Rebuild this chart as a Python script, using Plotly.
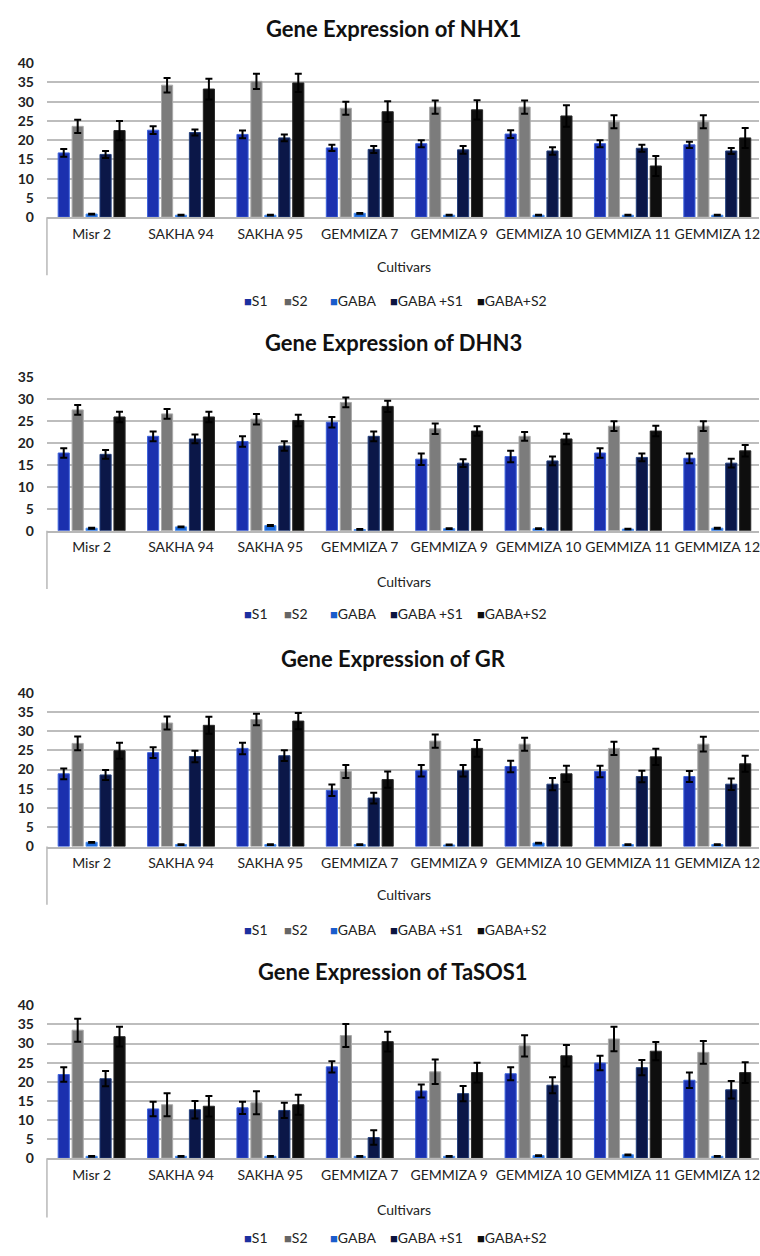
import plotly.graph_objects as go

CULTIVARS = ["Misr 2", "SAKHA 94", "SAKHA 95", "GEMMIZA 7", "GEMMIZA 9",
             "GEMMIZA 10", "GEMMIZA 11", "GEMMIZA 12"]
SERIES = ["S1", "S2", "GABA", "GABA +S1", "GABA+S2"]
GENES = ["NHX1", "DHN3", "GR", "TaSOS1"]

# NHX1
NHX1_S1 = [16.7, 22.6, 21.5, 18.0, 19.1, 21.6, 19.1, 18.8]
NHX1_S2 = [23.6, 34.3, 35.3, 28.3, 28.6, 28.6, 24.8, 24.8]
NHX1_GABA = [0.8, 0.5, 0.5, 1.0, 0.5, 0.5, 0.5, 0.5]
NHX1_GS1 = [16.3, 22.0, 20.6, 17.6, 17.5, 17.2, 17.9, 17.2]
NHX1_GS2 = [22.5, 33.3, 34.9, 27.4, 27.9, 26.3, 13.3, 20.6]
NHX1_S1_ERR = [1.0, 1.0, 1.0, 0.8, 0.9, 1.0, 0.9, 0.8]
NHX1_S2_ERR = [1.7, 1.9, 2.0, 1.7, 1.7, 1.7, 1.7, 1.7]
NHX1_GABA_ERR = [0.1, 0.1, 0.1, 0.1, 0.1, 0.1, 0.1, 0.1]
NHX1_GS1_ERR = [0.9, 0.8, 0.9, 0.9, 1.0, 1.0, 0.9, 0.8]
NHX1_GS2_ERR = [2.5, 2.7, 2.4, 2.7, 2.5, 2.8, 2.6, 2.6]

# DHN3
DHN3_S1 = [17.7, 21.5, 20.3, 24.7, 16.3, 16.9, 17.7, 16.5]
DHN3_S2 = [27.5, 26.6, 25.4, 29.2, 23.2, 21.5, 23.8, 23.8]
DHN3_GABA = [0.6, 0.9, 1.2, 0.3, 0.5, 0.5, 0.4, 0.6]
DHN3_GS1 = [17.4, 20.9, 19.3, 21.5, 15.4, 15.9, 16.7, 15.4]
DHN3_GS2 = [25.9, 25.9, 25.1, 28.3, 22.7, 20.9, 22.7, 18.2]
DHN3_S1_ERR = [1.1, 1.1, 1.2, 1.2, 1.3, 1.3, 1.1, 1.1]
DHN3_S2_ERR = [1.1, 1.1, 1.2, 1.1, 1.2, 1.0, 1.1, 1.1]
DHN3_GABA_ERR = [0.1, 0.1, 0.1, 0.1, 0.1, 0.1, 0.1, 0.1]
DHN3_GS1_ERR = [1.0, 1.0, 1.1, 1.1, 0.9, 1.0, 0.9, 1.0]
DHN3_GS2_ERR = [1.2, 1.2, 1.3, 1.3, 1.1, 1.2, 1.2, 1.3]

# GR
GR_S1 = [18.9, 24.4, 25.5, 14.6, 19.7, 20.8, 19.5, 18.2]
GR_S2 = [26.8, 32.1, 33.0, 19.5, 27.4, 26.6, 25.5, 26.6]
GR_GABA = [1.1, 0.5, 0.5, 0.5, 0.4, 0.9, 0.5, 0.5]
GR_GS1 = [18.6, 23.4, 23.6, 12.6, 19.7, 16.2, 18.2, 16.2]
GR_GS2 = [24.9, 31.5, 32.6, 17.4, 25.5, 18.9, 23.3, 21.5]
GR_S1_ERR = [1.4, 1.4, 1.5, 1.5, 1.5, 1.5, 1.5, 1.4]
GR_S2_ERR = [1.8, 1.7, 1.5, 1.7, 1.7, 1.7, 1.7, 1.9]
GR_GABA_ERR = [0.1, 0.1, 0.1, 0.1, 0.1, 0.1, 0.1, 0.1]
GR_GS1_ERR = [1.3, 1.5, 1.4, 1.4, 1.5, 1.6, 1.5, 1.5]
GR_GS2_ERR = [2.1, 2.2, 2.1, 2.1, 2.2, 2.1, 2.1, 2.1]

# TaSOS1
SOS1_S1 = [21.9, 12.9, 13.2, 23.9, 17.6, 22.1, 24.9, 20.4]
SOS1_S2 = [33.5, 14.0, 14.5, 32.1, 22.6, 29.4, 31.2, 27.7]
SOS1_GABA = [0.5, 0.5, 0.5, 0.5, 0.5, 0.7, 0.9, 0.5]
SOS1_GS1 = [20.8, 12.7, 12.5, 5.4, 16.9, 19.1, 23.7, 17.9]
SOS1_GS2 = [31.8, 13.6, 14.0, 30.5, 22.4, 26.8, 28.0, 22.4]
SOS1_S1_ERR = [1.9, 1.9, 1.6, 1.5, 1.7, 1.7, 1.9, 2.0]
SOS1_S2_ERR = [3.0, 3.0, 3.0, 3.0, 3.2, 2.8, 3.2, 3.0]
SOS1_GABA_ERR = [0.1, 0.1, 0.1, 0.1, 0.1, 0.1, 0.1, 0.1]
SOS1_GS1_ERR = [2.0, 2.3, 2.0, 1.9, 2.0, 2.1, 2.0, 2.3]
SOS1_GS2_ERR = [2.6, 2.7, 2.6, 2.6, 2.6, 2.8, 2.4, 2.7]

Y_MAX = [40, 35, 40, 40]

DATA = [
    [NHX1_S1, NHX1_S2, NHX1_GABA, NHX1_GS1, NHX1_GS2],
    [DHN3_S1, DHN3_S2, DHN3_GABA, DHN3_GS1, DHN3_GS2],
    [GR_S1, GR_S2, GR_GABA, GR_GS1, GR_GS2],
    [SOS1_S1, SOS1_S2, SOS1_GABA, SOS1_GS1, SOS1_GS2],
]
ERRS = [
    [NHX1_S1_ERR, NHX1_S2_ERR, NHX1_GABA_ERR, NHX1_GS1_ERR, NHX1_GS2_ERR],
    [DHN3_S1_ERR, DHN3_S2_ERR, DHN3_GABA_ERR, DHN3_GS1_ERR, DHN3_GS2_ERR],
    [GR_S1_ERR, GR_S2_ERR, GR_GABA_ERR, GR_GS1_ERR, GR_GS2_ERR],
    [SOS1_S1_ERR, SOS1_S2_ERR, SOS1_GABA_ERR, SOS1_GS1_ERR, SOS1_GS2_ERR],
]

FILL = ["#1b30ae", "#7c7c7c", "#1a66d6", "#0b1748", "#0e0e0e"]
EDGE = ["#3d63dc", "#a9a9a9", "#4a8ef0", "#24407e", "#2a2a2a"]
LEGEND_SWATCH = ["#1c2fa0", "#666666", "#1a5ccc", "#0b1440", "#0e0e0e"]

W, H = 760, 1256
FONT = "Lato, 'Open Sans', sans-serif"

# pixel layout of each panel
PLOT_TOP = [55, 373, 693, 1010]
PLOT_BOT = [211, 529, 849, 1165]
TITLE_Y = [20, 338, 658, 976]
AXT_Y = [261, 580, 898, 1217]
LEG_Y = [296, 613, 933, 1245]
RULE_BOT = [270, 588, 908, 1225]
LEG_X = [242, 282, 328, 389, 476]
X_LEFT = 47
X_RIGHT_FULL = 763

fig = go.Figure()
annotations = []
shapes = []


def py(p):
    return 1 - p / H


x_dom = [X_LEFT / W, 1.0]
x_hi = -0.5 + len(CULTIVARS) * (W - X_LEFT) / (X_RIGHT_FULL - X_LEFT)

for g, gene in enumerate(GENES):
    n = "" if g == 0 else str(g + 1)
    for s, name in enumerate(SERIES):
        fig.add_trace(go.Bar(
            x=CULTIVARS, y=DATA[g][s], name=name, showlegend=False,
            xaxis="x" + n, yaxis="y" + n,
            marker=dict(color=FILL[s], line=dict(color=EDGE[s], width=1)),
            error_y=dict(type="data", array=ERRS[g][s], visible=True,
                         color="#000000", thickness=2, width=3.5),
        ))
        annotations.append(dict(
            text="<span style='color:%s;font-size:13px'>■</span>%s" % (LEGEND_SWATCH[s], name),
            xref="paper", yref="paper", x=LEG_X[s] / W, y=py(LEG_Y[g]),
            xanchor="left", yanchor="middle", showarrow=False,
            font=dict(family=FONT, size=14, color="#222222"),
        ))
    fig.layout["xaxis" + n] = dict(
        domain=x_dom, anchor="y" + n, type="category",
        range=[-0.5, x_hi], showgrid=False, showline=True,
        linecolor="#b8b8b8", linewidth=1.5, ticks="", ticklabelstandoff=3,
        tickangle=0,
        tickfont=dict(family=FONT, size=14, color="#222222"),
    )
    fig.layout["yaxis" + n] = dict(
        domain=[py(PLOT_BOT[g]), py(PLOT_TOP[g])], anchor="x" + n,
        range=[0, Y_MAX[g]], dtick=5, showgrid=True, gridcolor="#bdbdbd",
        gridwidth=1.5, zeroline=False, showline=False, ticks="",
        ticklabelstandoff=12,
        tickfont=dict(family=FONT, size=14, color="#222222", weight="bold"),
    )
    annotations.append(dict(
        text="Gene Expression of " + gene, xref="paper", yref="paper",
        x=394 / W, y=py(TITLE_Y[g]), xanchor="center", yanchor="middle",
        showarrow=False, font=dict(family=FONT, size=22, color="#111111", weight="bold"),
    ))
    annotations.append(dict(
        text="Cultivars", xref="paper", yref="paper",
        x=405 / W, y=py(AXT_Y[g]), xanchor="center", yanchor="middle",
        showarrow=False, font=dict(family=FONT, size=14, color="#222222"),
    ))
    shapes.append(dict(
        type="line", xref="paper", yref="paper",
        x0=X_LEFT / W, x1=X_LEFT / W, y0=py(PLOT_BOT[g]), y1=py(RULE_BOT[g]),
        line=dict(color="#b8b8b8", width=1.5),
    ))

fig.update_layout(
    width=W, height=H, margin=dict(l=0, r=0, t=0, b=0),
    paper_bgcolor="white", plot_bgcolor="white",
    barmode="group", bargap=0.22, bargroupgap=0.2,
    annotations=annotations, shapes=shapes, showlegend=False,
    font=dict(family=FONT),
)

fig.write_html("out.html")
